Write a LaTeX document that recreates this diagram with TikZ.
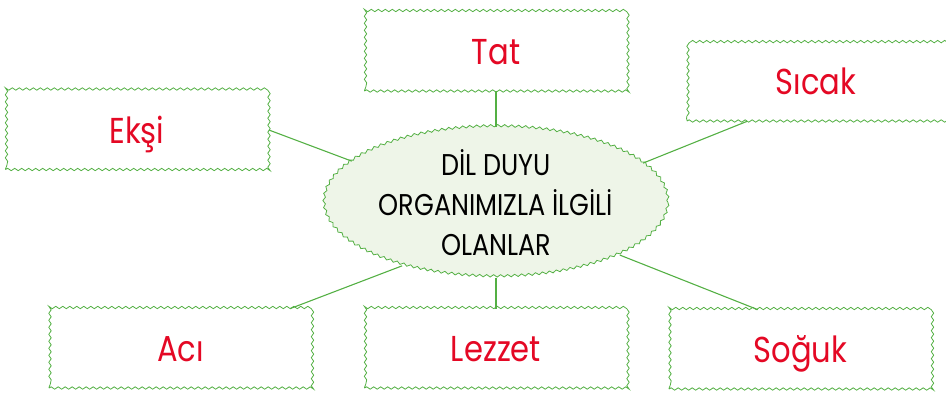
\documentclass[tikz,border=0pt]{standalone}
\usepackage{fontspec}
\setmainfont{Poppins}[FakeStretch=0.85]
\usetikzlibrary{shapes.geometric,decorations.pathmorphing}
\definecolor{leafgreen}{RGB}{84,176,68}
\definecolor{palegreen}{RGB}{238,245,232}
\definecolor{inkred}{RGB}{228,8,36}

\begin{document}
\begin{tikzpicture}[x=1pt,y=1pt,
		wordbox/.style={rectangle, draw=leafgreen, line width=0.8pt,
			decorate, decoration={snake, amplitude=1.2pt, segment length=7pt},
			minimum width=263pt, minimum height=79pt, inner sep=0pt,
			text=inkred, text height=26pt, text depth=0pt, font=\fontsize{36}{40}\selectfont},
		hub/.style={ellipse, draw=leafgreen, fill=palegreen, line width=0.8pt,
			decorate, decoration={snake, amplitude=1.2pt, segment length=7pt},
			minimum width=344pt, minimum height=149pt, inner sep=0pt,
			align=center, font=\fontsize{30}{40}\selectfont},
		link/.style={draw=leafgreen, line width=1.1pt}]
				\useasboundingbox (0,0) rectangle (946,-392);
				% senses of the tongue
				\node[hub] (dil) at (496,-202.5) {DİL DUYU\\ORGANIMIZLA İLGİLİ\\OLANLAR};
				
				\node[wordbox] (tat) at (496,-51.5) {Tat};
				\node[wordbox] (eksi) at (137,-130) {Ekşi};
				\node[wordbox, minimum width=258pt] (sicak) at (816,-81.5) {Sıcak};
				\node[wordbox] (aci) at (180.5,-348.5) {Acı};
				\node[wordbox] (lezzet) at (496,-348.5) {Lezzet};
				\node[wordbox] (soguk) at (800.5,-349.5) {Soğuk};
				
				\draw[link] (tat) edge (dil);
				\draw[link] (eksi.east) edge (dil.164);
				\draw[link] (sicak.210) edge (dil.15);
				\draw[link] (aci.20) edge (dil.214);
				\draw[link] (lezzet) edge (dil);
				\draw[link] (soguk.137) edge (dil.337);
		\end{tikzpicture}
\end{document}
